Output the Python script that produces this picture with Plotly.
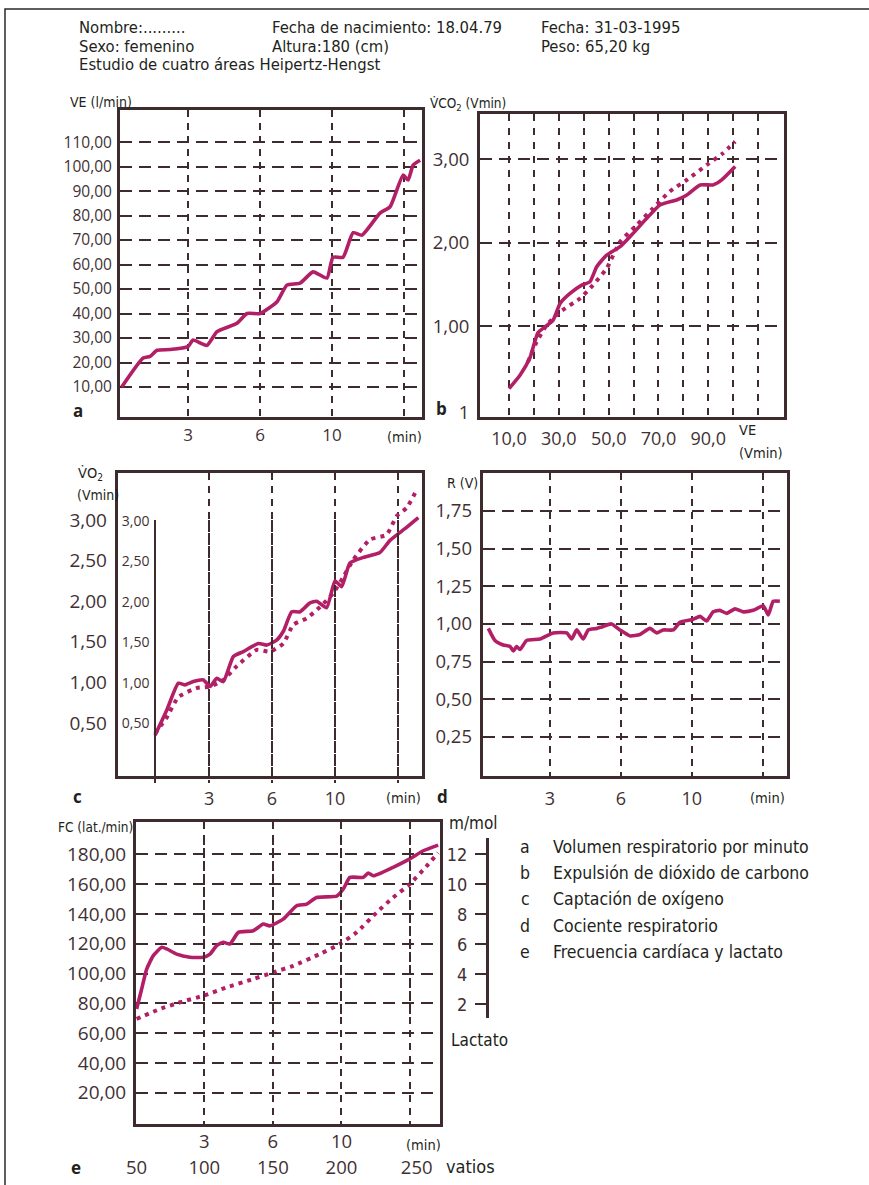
import plotly.graph_objects as go

W, H = 869, 1185
def px(x): return x / W
def py(y): return 1 - y / H

# ---------------- data ----------------
# panel a: VE (l/min) vs time (grid units, vertical grid lines at 3,6,9,12)
a_t = [0.24, 1.13, 1.42, 1.71, 2.25, 3.0, 3.21, 3.79, 4.21, 5.04, 5.46, 6.0, 6.71, 7.12, 7.67,
       8.21, 8.79, 9.04, 9.46, 9.88, 10.25, 11.0, 11.42, 11.96, 12.17, 12.38, 12.67]
a_ve = [10, 21.8, 22.5, 25, 25.3, 26.5, 29.2, 27, 32.6, 36, 40, 40, 44.8, 51.6, 52.4,
        57, 54.5, 63, 63, 73, 72, 81, 83.6, 96.5, 94.5, 100.6, 102.6]

# panel b: VCO2 vs VE
b_ve_solid = [10, 14.4, 18.4, 21.6, 24.5, 27.7, 30.5, 34.5, 39.2, 42.5, 45.2, 49.2, 54.6, 59.8,
              65.3, 70.6, 77.3, 81.4, 86.7, 91.9, 95.4, 100.8]
b_vco2_solid = [0.25, 0.41, 0.62, 0.92, 0.99, 1.07, 1.27, 1.39, 1.49, 1.53, 1.71, 1.85, 1.95, 2.11,
                2.29, 2.45, 2.51, 2.57, 2.69, 2.69, 2.75, 2.91]
b_ve_dot = [17.6, 21.1, 25.1, 30.5, 38.5, 43.7, 49.2, 54.6, 61.3, 67.8, 74.5, 81.4, 89.4, 95.9, 100.8]
b_vco2_dot = [0.57, 0.81, 1.01, 1.17, 1.33, 1.49, 1.69, 2.01, 2.21, 2.41, 2.61, 2.75, 2.93, 3.07, 3.21]

# panel c: VO2 vs time
c_t_solid = [0.43, 0.99, 1.54, 1.86, 2.25, 2.73, 3.05, 3.37, 3.68, 4.16, 4.63, 5.35, 5.75, 6.22,
             6.54, 6.94, 7.33, 7.81, 8.13, 8.60, 9.00, 9.32, 9.71, 10.35, 11.14, 11.62, 12.41, 12.97]
c_vo2_solid = [0.35, 0.66, 0.99, 0.97, 1.01, 1.03, 0.95, 1.05, 1.01, 1.32, 1.38, 1.48, 1.46, 1.52,
               1.63, 1.87, 1.87, 1.98, 2.00, 1.92, 2.25, 2.18, 2.47, 2.54, 2.60, 2.75, 2.91, 3.03]
c_t_dot = [0.43, 0.99, 1.54, 2.41, 3.05, 3.68, 4.32, 5.27, 5.90, 6.54, 7.01, 7.65, 8.29, 8.92,
           9.40, 9.87, 10.67, 11.46, 11.94, 12.41, 12.89]
c_vo2_dot = [0.37, 0.57, 0.82, 0.93, 0.95, 1.03, 1.20, 1.40, 1.38, 1.48, 1.71, 1.79, 1.93, 2.10,
             2.30, 2.51, 2.76, 2.82, 3.05, 3.15, 3.37]

# panel d: R vs time
d_t = [0.39, 0.67, 1.02, 1.31, 1.45, 1.59, 1.73, 2.01, 2.58, 3.14, 3.71, 3.92, 4.13, 4.41, 4.62,
       4.98, 5.19, 5.61, 5.96, 6.39, 6.81, 7.23, 7.52, 7.79, 8.22, 8.50, 9.06, 9.35, 9.63, 9.91,
       10.19, 10.48, 10.83, 11.18, 11.60, 12.03, 12.24, 12.45, 12.73]
d_r = [0.97, 0.89, 0.86, 0.85, 0.82, 0.85, 0.83, 0.89, 0.90, 0.94, 0.94, 0.90, 0.96, 0.90, 0.96,
       0.97, 0.98, 1.00, 0.96, 0.92, 0.93, 0.97, 0.94, 0.96, 0.96, 1.01, 1.03, 1.05, 1.02, 1.08,
       1.09, 1.07, 1.10, 1.08, 1.09, 1.12, 1.06, 1.15, 1.15]

# panel e: heart rate and lactate vs time
e_t_fc = [0.04, 0.26, 0.48, 0.77, 1.14, 1.36, 1.79, 2.37, 2.96, 3.25, 3.54, 3.83, 4.12, 4.49, 5.14,
          5.58, 5.87, 6.45, 7.04, 7.48, 7.91, 8.79, 9.08, 9.37, 9.95, 10.17, 10.39, 11.26, 11.99,
          12.58, 13.23]
e_fc = [76.2, 89.6, 103, 112, 117.6, 116.5, 113, 110.9, 110.9, 113, 118.7, 121, 119.8, 127.6, 128.7,
        133.2, 132, 136.5, 145.5, 146.6, 151, 152, 156.7, 164.5, 164.5, 167.4, 165.6, 171.3, 176.9,
        182.4, 186.2]
e_t_lac = [0.04, 1.06, 1.94, 2.96, 3.98, 5.14, 6.02, 6.89, 8.06, 8.93, 9.66, 10.54, 11.26, 11.99,
           12.72, 13.23]
e_lac = [0.95, 1.62, 2.07, 2.51, 3.07, 3.63, 4.08, 4.52, 5.31, 5.98, 6.76, 8.1, 9.1, 10.0, 11.2, 12.1]

# tick definitions
time_tickvals = [3, 6, 9]
time_ticktext = ["3", "6", "10"]
time_extra_grid = [12]
a_yticks = [10, 20, 30, 40, 50, 60, 70, 80, 90, 100, 110]
a_ytext = ["10,00", "20,00", "30,00", "40,00", "50,00", "60,00", "70,00", "80,00", "90,00", "100,00", "110,00"]
b_xticks = [10, 30, 50, 70, 90]
b_xtext = ["10,0", "30,0", "50,0", "70,0", "90,0"]
b_xextra = [20, 40, 60, 80, 100, 110]
b_yticks = [-0.04, 1, 2, 3]
b_ytext = ["1", "1,00", "2,00", "3,00"]
b_ygrid = [1, 2, 3]
c_yticks = [0.5, 1.0, 1.5, 2.0, 2.5, 3.0]
c_ytext = ["0,50", "1,00", "1,50", "2,00", "2,50", "3,00"]
d_yticks = [0.25, 0.5, 0.75, 1.0, 1.25, 1.5, 1.75]
d_ytext = ["0,25", "0,50", "0,75", "1,00", "1,25", "1,50", "1,75"]
e_yticks = [20, 40, 60, 80, 100, 120, 140, 160, 180]
e_ytext = ["20,00", "40,00", "60,00", "80,00", "100,00", "120,00", "140,00", "160,00", "180,00"]
lac_ticks = [2, 4, 6, 8, 10, 12]
lac_text = ["2", "4", "6", "8", "10", "12"]
watt_pos = [0.04, 3, 6, 9, 12.29]
watt_text = ["50", "100", "150", "200", "250"]

# ---------------- style ----------------
CURVE = "#b21f66"
GRID = "#3d2b2e"
TXT = "#3f3133"
HEAD = "#231f20"
NUM = "Open Sans, Noto Sans, sans-serif"
NARROW = "DejaVu Sans Condensed, Liberation Sans Narrow, Roboto, sans-serif"

solid = dict(color=CURVE, width=3.6, shape="spline", smoothing=0.5)
dotted = dict(color=CURVE, width=4, dash="4px,5px", shape="spline", smoothing=0.5)

fig = go.Figure()
def line(x, y, xa, ya, ln):
    fig.add_trace(go.Scatter(x=x, y=y, xaxis=xa, yaxis=ya, mode="lines", line=ln,
                             hoverinfo="skip", showlegend=False))

line(a_t, a_ve, "x", "y", solid)
line(b_ve_dot, b_vco2_dot, "x2", "y2", dotted)
line(b_ve_solid, b_vco2_solid, "x2", "y2", solid)
line(c_t_dot, c_vo2_dot, "x3", "y3", dotted)
line(c_t_solid, c_vo2_solid, "x3", "y3", solid)
line(d_t, d_r, "x4", "y4", solid)
line(e_t_lac, e_lac, "x5", "y6", dotted)
line(e_t_fc, e_fc, "x5", "y5", solid)
# invisible helpers so auxiliary axes are rendered
for xa, ya, xv, yv in [("x3", "y8", [5], [1]), ("x5", "y7", [5], [5]), ("x6", "y5", [5], [50])]:
    fig.add_trace(go.Scatter(x=xv, y=yv, xaxis=xa, yaxis=ya, mode="markers",
                             marker=dict(opacity=0), hoverinfo="skip", showlegend=False))

frame = dict(showline=True, mirror=True, linewidth=3, linecolor=GRID, zeroline=False,
             ticks="", fixedrange=True)
HDASH = "12px,7px"
VDASH = "7px,6px"
hgrid = dict(showgrid=True, gridcolor=GRID, gridwidth=2, griddash=HDASH)
def vgrid(extra, dash=VDASH):
    return dict(showgrid=True, gridcolor=GRID, gridwidth=2, griddash=dash,
                minor=dict(tickmode="array", tickvals=extra, showgrid=True, gridcolor=GRID,
                           gridwidth=2, griddash=dash, ticks=""))

def tf(size, fam=NUM, color=TXT):
    return dict(family=fam, size=size, color=color)

layout = dict(
    width=W, height=H, margin=dict(l=0, r=0, t=0, b=0, autoexpand=False),
    paper_bgcolor="white", plot_bgcolor="rgba(0,0,0,0)", showlegend=False,
    # panel a
    xaxis=dict(**frame, **vgrid(time_extra_grid), domain=[px(120), px(422)], range=[0.167, 12.75],
               anchor="y", tickmode="array", tickvals=time_tickvals, ticktext=time_ticktext,
               tickfont=tf(17), ticklabelstandoff=1),
    yaxis=dict(**frame, **hgrid, domain=[py(417), py(110)], range=[-2.24, 123.1], anchor="x",
               tickmode="array", tickvals=a_yticks, ticktext=a_ytext, tickfont=tf(15.5),
               ticklabelstandoff=2),
    # panel b
    xaxis2=dict(**frame, **vgrid(b_xextra, "7px,7px"), domain=[px(480), px(784)],
                range=[-1.65, 120.4], anchor="y2", tickmode="array", tickvals=b_xticks,
                ticktext=b_xtext, tickfont=tf(18), ticklabelstandoff=3),
    yaxis2=dict(**frame, showgrid=False, domain=[py(417), py(114)], range=[-0.09, 3.54],
                anchor="x2", tickmode="array", tickvals=b_yticks, ticktext=b_ytext,
                tickfont=tf(18.5), ticklabelstandoff=4,
                minor=dict(tickmode="array", tickvals=b_ygrid, showgrid=True, gridcolor=GRID,
                           gridwidth=2, griddash=HDASH, ticks="")),
    # panel c
    xaxis3=dict(**frame, **vgrid(time_extra_grid), domain=[px(117.7), px(421.7)],
                range=[-1.35, 13.13], anchor="y3", tickmode="array", tickvals=time_tickvals,
                ticktext=time_ticktext, tickfont=tf(18), ticklabelstandoff=4),
    yaxis3=dict(**frame, showgrid=False, domain=[py(776), py(473)], range=[-0.153, 3.58],
                anchor="x3", tickmode="array", tickvals=c_yticks, ticktext=c_ytext,
                tickfont=tf(19), ticklabelstandoff=4),
    yaxis8=dict(showline=True, linewidth=1.5, linecolor=GRID, showgrid=False, zeroline=False,
                ticks="", fixedrange=True, domain=[py(783), py(520)], range=[-0.239, 3.01],
                anchor="free", position=px(155), side="left", tickmode="array",
                tickvals=c_yticks, ticktext=c_ytext, tickfont=tf(14), ticklabelstandoff=2),
    # panel d
    xaxis4=dict(**frame, **vgrid(time_extra_grid), domain=[px(482.7), px(786.7)],
                range=[0.152, 13.02], anchor="y4", tickmode="array", tickvals=time_tickvals,
                ticktext=time_ticktext, tickfont=tf(18), ticklabelstandoff=4),
    yaxis4=dict(**frame, **hgrid, domain=[py(776), py(473.3)], range=[-0.01, 2.0], anchor="x4",
                tickmode="array", tickvals=d_yticks, ticktext=d_ytext, tickfont=tf(18.5),
                ticklabelstandoff=4),
    # panel e
    xaxis5=dict(**frame, **vgrid(time_extra_grid), domain=[px(136), px(440)],
                range=[0.013, 13.31], anchor="y5", tickmode="array", tickvals=time_tickvals,
                ticktext=time_ticktext, tickfont=tf(18.5), ticklabelstandoff=-1),
    xaxis6=dict(overlaying="x5", anchor="free", position=py(1153), side="bottom",
                range=[0.013, 13.31], showline=False, showgrid=False, zeroline=False, ticks="",
                fixedrange=True, tickmode="array", tickvals=watt_pos, ticktext=watt_text,
                tickfont=tf(18.5), ticklabelstandoff=1),
    yaxis5=dict(**frame, **hgrid, domain=[py(1124), py(821.7)], range=[-1.0, 201.9], anchor="x5",
                tickmode="array", tickvals=e_yticks, ticktext=e_ytext, tickfont=tf(19),
                ticklabelstandoff=3),
    yaxis6=dict(overlaying="y5", range=[-6.1, 14.19], visible=False, fixedrange=True),
    yaxis7=dict(showline=True, linewidth=2.5, linecolor=GRID, showgrid=False, zeroline=False,
                domain=[py(1018), py(838)], range=[1.08, 13.09], anchor="free",
                position=px(486.7), side="left", ticks="outside", ticklen=11, tickwidth=2,
                tickcolor=GRID, tickmode="array", tickvals=lac_ticks, ticktext=lac_text,
                tickfont=tf(18, NARROW), ticklabelstandoff=4, fixedrange=True),
)
fig.update_layout(**layout)

ann = []
def txt(t, x, y, size, fam=NARROW, color=HEAD, xa="left", bold=False):
    if bold:
        t = "<b>" + t + "</b>"
    ann.append(dict(text=t, x=px(x), y=py(y), xref="paper", yref="paper", showarrow=False,
                    xanchor=xa, yanchor="middle", borderpad=0,
                    font=dict(family=fam, size=size, color=color)))

# header
header = [("Nombre:.........", 78, 28), ("Fecha de nacimiento: 18.04.79", 271, 28),
          ("Fecha: 31-03-1995", 540, 28), ("Sexo: femenino", 78, 46),
          ("Altura:180 (cm)", 271, 46), ("Peso: 65,20 kg", 540, 46),
          ("Estudio de cuatro áreas Heipertz-Hengst", 78, 64)]
for t, x, y in header:
    txt(t, x, y, 16.5)

# legend on the right
legend_keys = ["a", "b", "c", "d", "e"]
legend_text = ["Volumen respiratorio por minuto", "Expulsión de dióxido de carbono",
               "Captación de oxígeno", "Cociente respiratorio", "Frecuencia cardíaca y lactato"]
for i, (k, t) in enumerate(zip(legend_keys, legend_text)):
    yy = 847 + i * 26.2
    txt(k, 525, yy, 17.5, xa="center")
    txt(t, 552, yy, 17.5)

# axis titles / panel letters
txt("VE (l/min)", 133, 102, 14, xa="right")
txt("a", 78, 410, 17, fam=NUM, xa="center", bold=True)
txt("(min)", 423, 437, 14.5, xa="right")
txt("V\u0307CO<sub>2</sub> (Vmin)", 429, 104, 13.5)
txt("b", 441, 408, 17, fam=NUM, xa="center", bold=True)
txt("VE", 738, 430, 14.5)
txt("(Vmin)", 738, 453, 14.5)
txt("V\u0307O<sub>2</sub>", 77, 474, 14.5)
txt("(Vmin)", 76, 495, 14)
txt("c", 77, 796, 17, fam=NUM, xa="center", bold=True)
txt("(min)", 422, 798, 14.5, xa="right")
txt("R (V)", 479, 483, 14, xa="right")
txt("d", 442, 796, 17, fam=NUM, xa="center", bold=True)
txt("(min)", 786, 798, 14.5, xa="right")
txt("FC (lat./min)", 134, 827, 13.5, xa="right")
txt("m/mol", 448, 823, 17)
txt("Lactato", 450, 1040, 17)
txt("(min)", 442, 1145, 14.5, xa="right")
txt("vatios", 445, 1166, 18)
txt("e", 76, 1167, 17, fam=NUM, xa="center", bold=True)

fig.update_layout(annotations=ann)

# page border
fig.add_shape(type="rect", xref="paper", yref="paper", x0=px(5), x1=px(880), y0=py(1195),
              y1=py(9), line=dict(color="#2a2a2a", width=1.5), layer="below")

fig.write_html("out.html", config={"displayModeBar": False},
               post_script="document.body.style.margin='0';document.body.style.overflow='hidden';")
